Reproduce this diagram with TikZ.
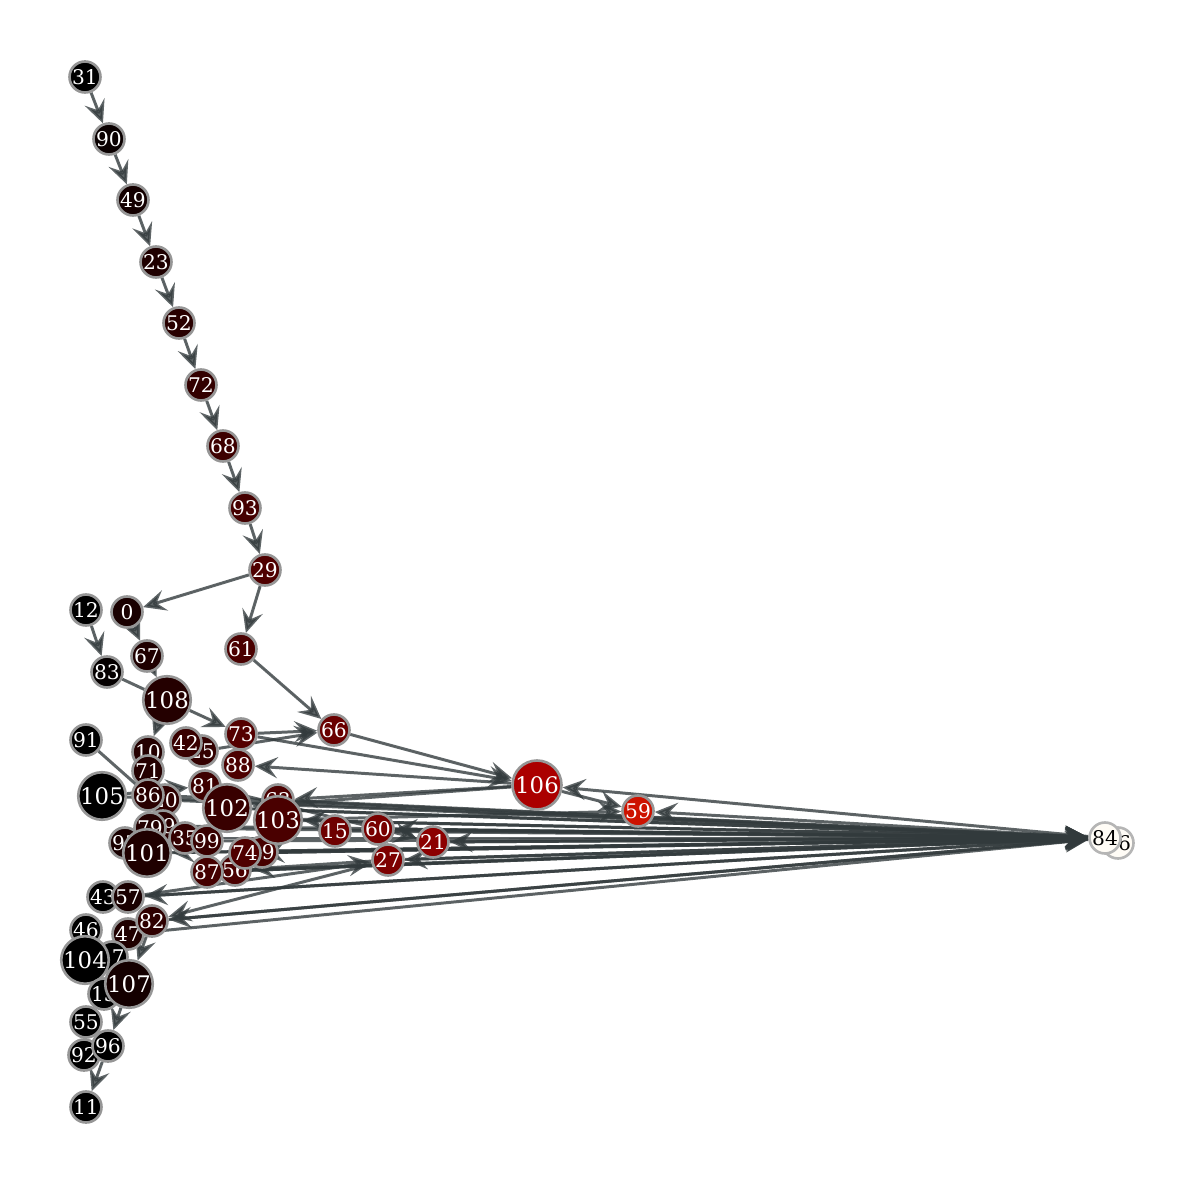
\documentclass[tikz,border=0pt]{standalone}
\usepackage{fontspec}
\setmainfont{DejaVu Serif}
\usetikzlibrary{arrows.meta}
\pgfdeclarelayer{edges}
\pgfsetlayers{edges,main}
\definecolor{vline}{RGB}{150,150,150}
\definecolor{eline}{RGB}{50,58,60}
\definecolor{hot}{RGB}{205,18,0}
\definecolor{sink}{RGB}{255,252,246}
\tikzset{
  vtx/.style={circle, draw=vline, line width=1.5pt, minimum size=0.62cm, inner sep=0pt,
    text=white, font=\fontsize{11.5}{12}\selectfont},
  bigvtx/.style={vtx, minimum size=0.95cm, font=\fontsize{13}{14}\selectfont},
  edge/.style={draw=eline, fill=eline, opacity=0.78, line width=1.7pt,
    -{Stealth[length=13pt,width=12pt,inset=5pt]}},
  plain/.style={draw=eline, opacity=0.78, line width=1.7pt},
}
\begin{document}
\begin{tikzpicture}[x=0.02cm,y=-0.02cm]
\useasboundingbox (0,0) rectangle (1200,1185);

% upper chain
\node[vtx, fill=black] (v31) at (85,77) {31};
\node[vtx, fill=red!4!black] (v90) at (109,139) {90};
\node[vtx, fill=red!8!black] (v49) at (133,200) {49};
\node[vtx, fill=red!12!black] (v23) at (156,262) {23};
\node[vtx, fill=red!16!black] (v52) at (179,323) {52};
\node[vtx, fill=red!20!black] (v72) at (201,385) {72};
\node[vtx, fill=red!24!black] (v68) at (223,446) {68};
\node[vtx, fill=red!27!black] (v93) at (245,508) {93};
\node[vtx, fill=red!31!black] (v29) at (265,570) {29};
\node[vtx, fill=red!10!black] (v0) at (127,612) {0};
\node[vtx, fill=black] (v12) at (86,610) {12};
\node[vtx, fill=red!2!black] (v83) at (107,672) {83};
\node[vtx, fill=red!12!black] (v67) at (147,656) {67};
\node[bigvtx, fill=red!14!black] (v108) at (167,700) {108};
\node[vtx, fill=red!29!black] (v61) at (241,649) {61};
\node[vtx, fill=red!41!black] (v66) at (334,730) {66};

% left cluster
\node[vtx, fill=red!20!black] (v25) at (202,751) {25};
\node[vtx, fill=red!22!black] (v42) at (186,743) {42};
\node[vtx, fill=red!33!black] (v73) at (241,734) {73};
\node[vtx, fill=black] (v91) at (86,740) {91};
\node[vtx, fill=red!14!black] (v10) at (148,752) {10};
\node[vtx, fill=red!14!black] (v71) at (148,771) {71};
\node[vtx, fill=red!18!black] (v20) at (165,800) {20};
\node[vtx, fill=red!16!black] (v86) at (148,795) {86};
\node[bigvtx, fill=black] (v105) at (102,796) {105};
\node[vtx, fill=red!30!black] (v88) at (238,765) {88};
\node[vtx, fill=red!24!black] (v81) at (205,786) {81};
\node[vtx, fill=red!30!black] (v63) at (278,800) {63};
\node[vtx, fill=red!10!black] (v95) at (125,843) {95};
\node[vtx, fill=red!16!black] (v69) at (163,826) {69};
\node[vtx, fill=red!14!black] (v79) at (150,828) {79};
\node[vtx, fill=red!20!black] (v35) at (185,838) {35};
\node[bigvtx, fill=red!12!black] (v101) at (147,853) {101};
\node[vtx, fill=red!29!black] (v56) at (235,870) {56};
\node[vtx, fill=red!27!black] (v87) at (207,872) {87};
\node[vtx, fill=red!22!black] (v99) at (207,841) {99};
\node[vtx, fill=red!28!black] (v19) at (262,852) {19};
\node[vtx, fill=red!31!black] (v74) at (245,853) {74};
\node[bigvtx, fill=red!22!black] (v102) at (227,808) {102};
\node[bigvtx, fill=red!29!black] (v103) at (278,820) {103};

% red nodes
\node[vtx, fill=red!43!black] (v15) at (335,831) {15};
\node[vtx, fill=red!47!black] (v60) at (378,829) {60};
\node[vtx, fill=red!55!black] (v21) at (433,842) {21};
\node[vtx, fill=red!49!black] (v27) at (388,860) {27};
\node[bigvtx, minimum size=0.98cm, fill=red!67!black] (v106) at (537,785) {106};
\node[vtx, fill=hot] (v59) at (638,811) {59};

% sink
\node[vtx, fill=sink, draw=vline!70, text=black] (v76) at (1118,843) {76};
\node[vtx, fill=sink, draw=vline!70, text=black] (v84) at (1105,838) {84};

% lower chain
\node[vtx, fill=black] (v43) at (103,897) {43};
\node[vtx, fill=red!10!black] (v57) at (128,897) {57};
\node[vtx, fill=black] (v46) at (86,930) {46};
\node[vtx, fill=red!12!black] (v47) at (128,934) {47};
\node[vtx, fill=red!18!black] (v82) at (152,921) {82};
\node[vtx, fill=black] (v17) at (112,957) {17};
\node[bigvtx, fill=black] (v104) at (85,960) {104};
\node[vtx, fill=black] (v13) at (104,994) {13};
\node[bigvtx, fill=red!8!black] (v107) at (129,984) {107};
\node[vtx, fill=black] (v55) at (86,1022) {55};
\node[vtx, fill=black] (v92) at (84,1055) {92};
\node[vtx, fill=black] (v96) at (108,1046) {96};
\node[vtx, fill=black] (v11) at (86,1107) {11};

% connectors
\begin{pgfonlayer}{edges}
\foreach \a/\b in {31/90,90/49,49/23,23/52,52/72,72/68,68/93,93/29,29/0,29/61,
  12/83,0/67,67/108,108/73,108/10,61/66,73/66,25/66,66/106,73/106,
  105/81,106/88,106/102,106/63,106/59,103/59,
  84/106,84/59,84/21,84/27,84/74,84/101,84/57,84/82,84/60,84/87,84/103,84/102,
  57/27,27/82,27/56,81/21,82/107,107/96,96/11,55/96}
  \draw[edge] (v\a) -- (v\b);
\foreach \a in {101,86,102,103,99,15,60,21,27,74,19,56,35,79,69,20,57,82,47,87,63,105}
  \draw[edge] (v\a) -- (v84);
\draw[plain] (v83) -- (v108);
\draw[plain] (v91) -- (v86);
\end{pgfonlayer}
\end{tikzpicture}
\end{document}
